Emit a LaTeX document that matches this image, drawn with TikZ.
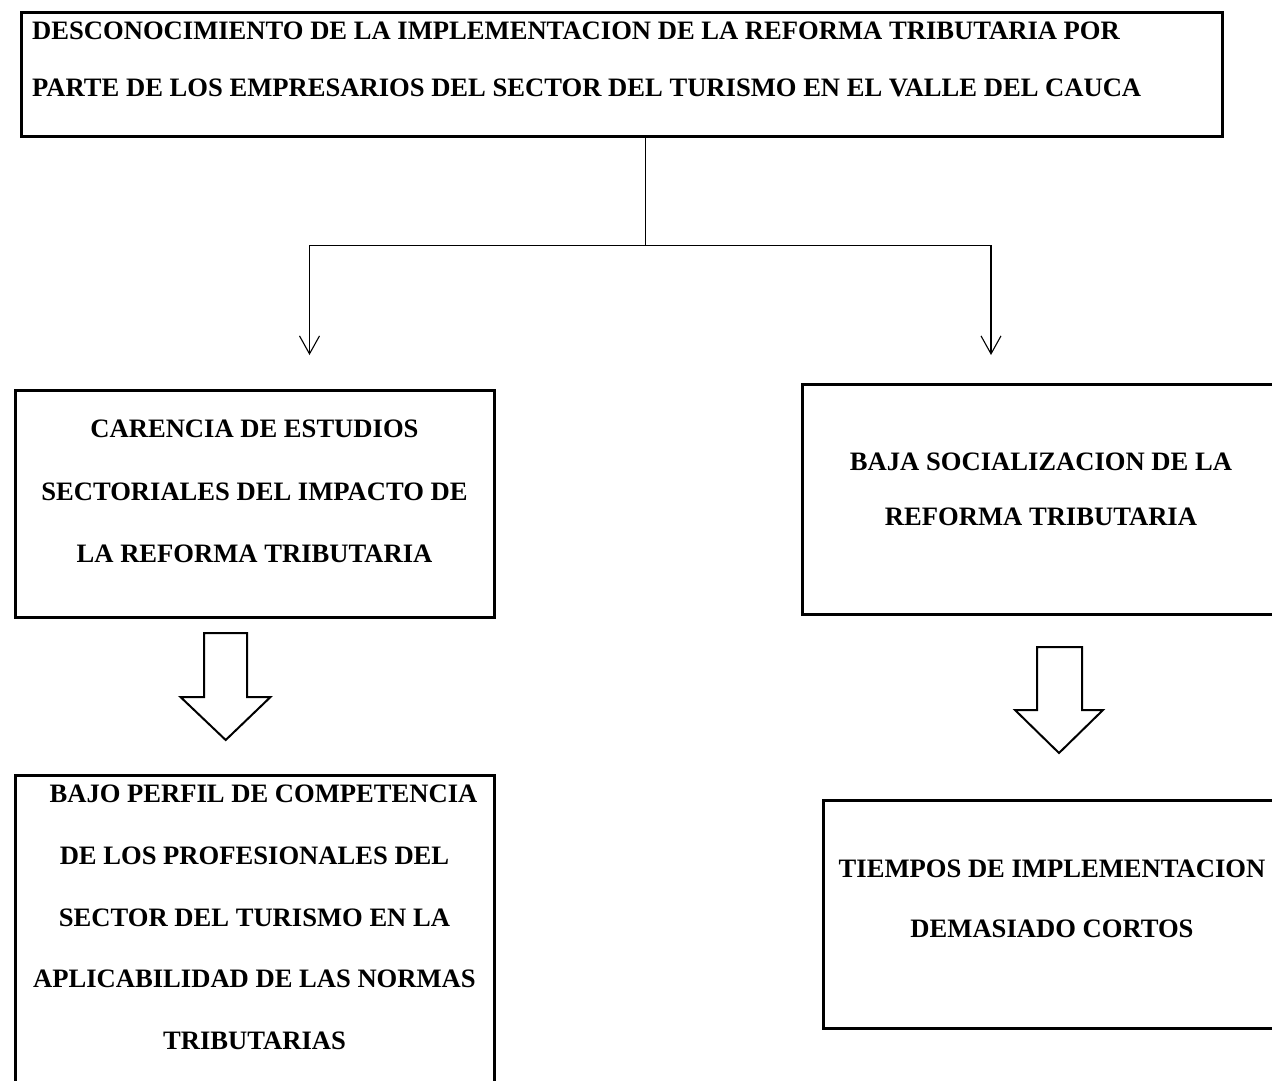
\documentclass[tikz,border=0pt]{standalone}
\usepackage{fontspec}
\setmainfont{Liberation Serif}
\usetikzlibrary{arrows.meta}

\begin{document}
\begin{tikzpicture}[x=1pt,y=-1pt,
    box/.style={draw=black,line width=3pt,inner sep=0pt,outer sep=0pt},
    boxtext/.style={inner sep=0pt,align=center,font=\bfseries\fontsize{26.6}{#1}\selectfont},
    link/.style={draw=black,line width=1.1pt,-{Straight Barb[length=18pt,width=20pt,line width=1.1pt]}},
    fatarrow/.style={draw=black,line width=2pt,line join=miter}]
    \path[use as bounding box,clip] (0,0) rectangle (1272,1080);
    % boxes
    \node[box,minimum width=1201pt,minimum height=124pt] (top) at (622,74.5) {};
    \node[box,minimum width=479.5pt,minimum height=227.5pt] (carencia) at (254.75,503.75) {};
    \node[box,minimum width=487.5pt,minimum height=229.5pt] (baja) at (1046.25,499.25) {};
    \node[box,minimum width=479.5pt,minimum height=324.5pt] (bajo) at (254.75,937.75) {};
    \node[box,minimum width=466.5pt,minimum height=228pt] (tiempos) at (1056.75,914.5) {};
    % texts
    \node[boxtext=56.5,align=left,anchor=north west] (toptext) at (32,21.7)
        {DESCONOCIMIENTO DE LA IMPLEMENTACION DE LA REFORMA TRIBUTARIA POR\\
         PARTE DE LOS EMPRESARIOS DEL SECTOR DEL TURISMO EN EL VALLE DEL CAUCA};
    \node[boxtext=62.5,anchor=north] (carenciatext) at (254.5,420)
        {CARENCIA DE ESTUDIOS\\SECTORIALES DEL IMPACTO DE\\LA REFORMA TRIBUTARIA};
    \node[boxtext=55,anchor=north] (bajatext) at (1041,453)
        {BAJA SOCIALIZACION DE LA\\REFORMA TRIBUTARIA};
    \node[boxtext=61.7,anchor=north] (bajotext) at (254.5,785)
        {\hspace*{18pt}BAJO PERFIL DE COMPETENCIA\\DE LOS PROFESIONALES DEL\\
         SECTOR DEL TURISMO EN LA\\APLICABILIDAD DE LAS NORMAS\\TRIBUTARIAS};
    \node[boxtext=60,anchor=north] (tiempostext) at (1052,860)
        {TIEMPOS DE IMPLEMENTACION\\DEMASIADO CORTOS};
    % connectors
    \coordinate (fork) at (645.7,245.5);
    \coordinate (endL) at (309.5,355);
    \coordinate (endR) at (991,355);
    \draw[line width=1.1pt] (fork |- top.south) -- (fork);
    \draw[link] (fork) -| (endL);
    \draw[link] (fork) -| (endR);
    % block arrows
    \draw[fatarrow] (204,633) -- (247,633) -- (247,697) -- (270.5,697) -- (225.7,740)
        -- (180.5,697) -- (204,697) -- cycle;
    \draw[fatarrow] (1037,647) -- (1082,647) -- (1082,710) -- (1103,710) -- (1059,753)
        -- (1015,710) -- (1037,710) -- cycle;
\end{tikzpicture}
\end{document}
